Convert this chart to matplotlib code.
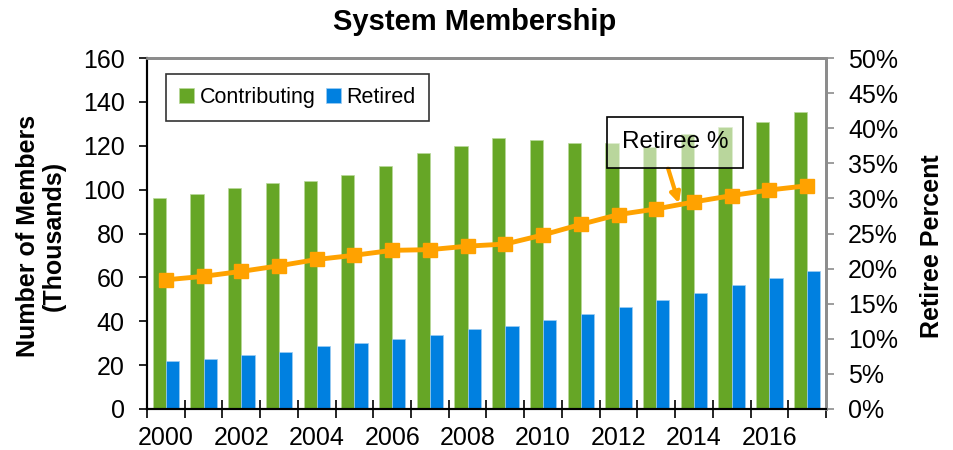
import numpy as np
import matplotlib
matplotlib.use("Agg")
import matplotlib.pyplot as plt
from matplotlib.ticker import FixedLocator, FuncFormatter

plt.rcParams["font.family"] = ["Liberation Sans", "DejaVu Sans"]

# -----------------------------
# Data (thousands of members, retiree share in %)
# -----------------------------
years = list(range(2000, 2018))
contributing = [96.3, 98.1, 100.9, 102.9, 104.1, 106.7, 110.8, 116.7, 120.0,
                123.4, 122.6, 121.2, 121.4, 119.3, 125.3, 128.4, 130.7, 135.4]
retired = [21.9, 22.6, 24.6, 26.0, 28.7, 29.9, 31.9, 33.9, 36.5,
           37.8, 40.4, 43.1, 46.5, 49.7, 53.0, 56.4, 59.7, 63.0]
retiree_pct = [18.4, 18.9, 19.6, 20.4, 21.3, 21.9, 22.6, 22.7, 23.2,
               23.5, 24.8, 26.3, 27.7, 28.5, 29.5, 30.4, 31.2, 31.8]
label_years = [2000, 2002, 2004, 2006, 2008, 2010, 2012, 2014, 2016]

GREEN = "#66a626"
BLUE = "#0080e0"
ORANGE = "#ffa200"
GRAY = "#8c8c8c"

x = np.arange(len(years))
w = 0.35

fig = plt.figure(figsize=(9.54, 4.5), dpi=100)
ax = fig.add_axes([147 / 954, 1 - 409 / 450, 679 / 954, 351 / 450])
ax2 = ax.twinx()

ax.bar(x - w / 2, contributing, w, color=GREEN, edgecolor="#b8d89a", linewidth=0.5,
       label="Contributing", zorder=2)
ax.bar(x + w / 2, retired, w, color=BLUE, edgecolor="#9cccf2", linewidth=0.5,
       label="Retired", zorder=2)

ax2.plot(x, retiree_pct, color=ORANGE, lw=3.5, marker="s", ms=9.5, zorder=3)

# axes ranges and ticks
ax.set_xlim(-0.5, len(years) - 0.5)
ax.set_ylim(0, 160)
ax.set_yticks(np.arange(0, 161, 20))
ax2.set_ylim(0, 50)
ax2.set_yticks(np.arange(0, 51, 5))
ax2.yaxis.set_major_formatter(FuncFormatter(lambda v, p: f"{v:.0f}%"))

ax.xaxis.set_major_locator(FixedLocator(np.arange(-0.5, len(years), 1.0)))
ax.xaxis.set_major_formatter(FuncFormatter(lambda v, p: ""))
ax.xaxis.set_minor_locator(FixedLocator([years.index(y) for y in label_years]))
ax.xaxis.set_minor_formatter(FuncFormatter(lambda v, p: str(years[int(round(v))])))

ax.tick_params(axis="x", which="major", direction="inout", length=13, width=1.2, color="black")
ax.tick_params(axis="x", which="minor", length=0, pad=12, labelsize=18)
ax.tick_params(axis="y", direction="out", length=6, width=1.2, pad=10, labelsize=18)
ax2.tick_params(axis="y", direction="out", length=6, width=1.2, color=GRAY, pad=10, labelsize=18)

for a in (ax, ax2):
    a.spines["left"].set_color("black")
    a.spines["bottom"].set_color("black")
    a.spines["left"].set_linewidth(1.5)
    a.spines["bottom"].set_linewidth(1.5)
    a.spines["top"].set_color(GRAY)
    a.spines["right"].set_color(GRAY)
    a.spines["top"].set_linewidth(2)
    a.spines["right"].set_linewidth(2)

leg = ax.legend(loc="upper left", bbox_to_anchor=(0.028, 0.954), borderaxespad=0,
                ncol=2, fontsize=15.5, frameon=True, fancybox=False, edgecolor="black",
                handlelength=0.7, handleheight=0.7, handletextpad=0.25,
                columnspacing=0.5, borderpad=0.6)
leg.get_frame().set_linewidth(1.2)

ax2.annotate("Retiree %", xy=(13.6, 29.3), xytext=(13.5, 38.0), textcoords="data",
             fontsize=17.5, ha="center", va="center",
             bbox=dict(boxstyle="square,pad=0.6", fc=(1, 1, 1, 0.55), ec="black", lw=1.2),
             arrowprops=dict(arrowstyle="-|>", color=ORANGE, lw=3, mutation_scale=15,
                             relpos=(0.39, 0.0), shrinkA=0, shrinkB=0),
             zorder=5)

fig.text(0.497, 0.951, "System Membership", ha="center", va="center",
         fontsize=21, fontweight="bold")
fig.text(0.043, 0.475, "Number of Members\n(Thousands)", ha="center", va="center",
         rotation=90, fontsize=18, fontweight="bold", multialignment="center",
         linespacing=1.1)
fig.text(0.977, 0.452, "Retiree Percent", ha="center", va="center",
         rotation=90, fontsize=18, fontweight="bold")

fig.savefig("out.png", dpi=100)
